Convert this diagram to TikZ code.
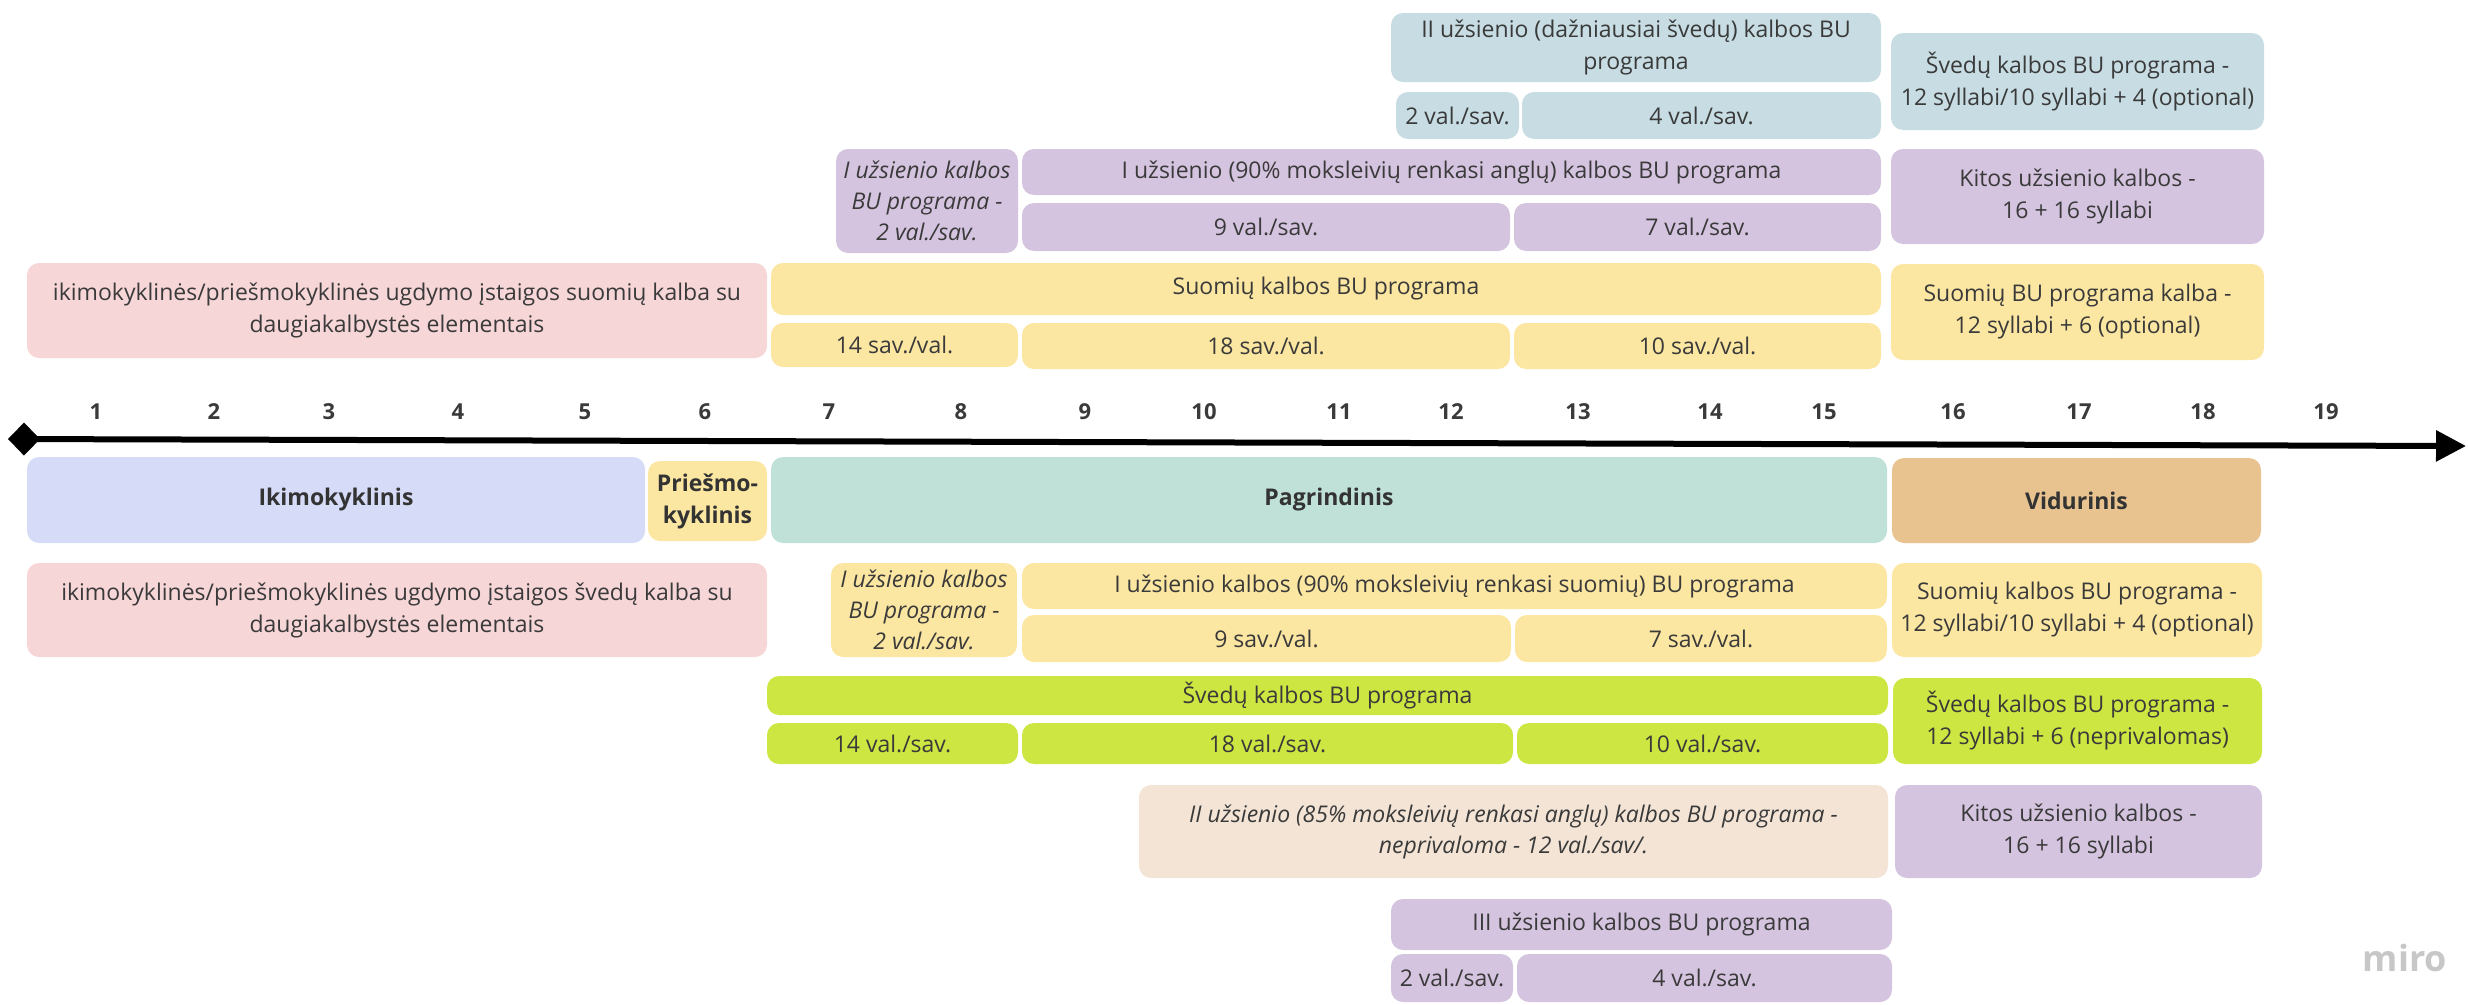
\documentclass[tikz,border=0pt]{standalone}
\usepackage{fontspec}
\setmainfont{Open Sans}
\usepackage{tikz}
\usetikzlibrary{arrows.meta}

\definecolor{txt}{HTML}{3A3A3A}
\definecolor{cGray}{HTML}{C7DCE3}
\definecolor{cPurple}{HTML}{D5C4E0}
\definecolor{cYellow}{HTML}{FBE6A2}
\definecolor{cPink}{HTML}{F7D6D8}
\definecolor{cLav}{HTML}{D6DCF8}
\definecolor{cTeal}{HTML}{C0E1D8}
\definecolor{cTan}{HTML}{E8C28F}
\definecolor{cLime}{HTML}{CDE642}
\definecolor{cBeige}{HTML}{F3E4D6}

\tikzset{
  box/.style 2 args={rounded corners=12pt, inner sep=0pt, align=center,
    minimum width=#1pt, minimum height=#2pt, text=txt,
    font=\fontsize{23}{32}\selectfont},
  ital/.style={font=\fontsize{23}{31}\selectfont\itshape},
  phase/.style={font=\fontsize{23}{32}\selectfont\bfseries, text=black!80},
  num/.style={font=\fontsize{22}{26}\selectfont\bfseries, text=txt}
}

\begin{document}
\begin{tikzpicture}[x=1pt,y=-1pt]
\useasboundingbox (0,0) rectangle (2468,1004);

% Upper rows: Finnish-language school
\node[box={490}{69}, fill=cGray] (sv2) at (1636,47.5) {II užsienio (dažniausiai švedų) kalbos BU\\programa};
\node[box={123}{47}, fill=cGray] (sv2a) at (1457.5,115.5) {2 val./sav.};
\node[box={359}{47}, fill=cGray] (sv2b) at (1701.5,115.5) {4 val./sav.};
\node[box={373}{97}, fill=cGray] (svR) at (2077.5,81.5) {Švedų kalbos BU programa -\\12 syllabi/10 syllabi + 4 (optional)};

\node[box={182}{104}, fill=cPurple, ital] (en0) at (927,201) {I užsienio kalbos\\BU programa -\\2 val./sav.};
\node[box={859}{46}, fill=cPurple] (en1) at (1451.5,172) {I užsienio (90\% moksleivių renkasi anglų) kalbos BU programa};
\node[box={488}{48}, fill=cPurple] (en1a) at (1266,227) {9 val./sav.};
\node[box={367}{48}, fill=cPurple] (en1b) at (1697.5,227) {7 val./sav.};
\node[box={373}{95}, fill=cPurple] (enR) at (2077.5,196.5) {Kitos užsienio kalbos -\\16 + 16 syllabi};

\node[box={740}{95}, fill=cPink] (fi0) at (397,310.5) {ikimokyklinės/priešmokyklinės ugdymo įstaigos suomių kalba su\\daugiakalbystės elementais};
\node[box={1110}{52}, fill=cYellow] (fi1) at (1326,289) {Suomių kalbos BU programa};
\node[box={247}{44}, fill=cYellow] (fi1a) at (894.5,345) {14 sav./val.};
\node[box={488}{46}, fill=cYellow] (fi1b) at (1266,346) {18 sav./val.};
\node[box={367}{46}, fill=cYellow] (fi1c) at (1697.5,346) {10 sav./val.};
\node[box={373}{96}, fill=cYellow] (fiR) at (2077.5,312) {Suomių BU programa kalba -\\12 syllabi + 6 (optional)};

% Age axis
\coordinate (axL) at (8,439);
\coordinate (axR) at (2466,446);
\draw[line width=6pt, {Diamond[length=32pt,width=33pt]}-{Triangle[length=30pt,width=30pt]}] (axL) -- (axR);
\foreach \n/\x in {1/96,2/214,3/329,4/458,5/585,6/705,7/829,8/961,9/1085,10/1204,
    11/1339,12/1451,13/1578,14/1710,15/1824,16/1953,17/2079,18/2203,19/2326}
  \node[num] (n\n) at (\x,412) {\n};

% School stages
\node[box={618}{86}, fill=cLav, phase] (ph1) at (336,500) {Ikimokyklinis};
\node[box={119}{80}, fill=cYellow, phase] (ph2) at (707.5,501) {Priešmo-\\kyklinis};
\node[box={1116}{86}, fill=cTeal, phase] (ph3) at (1329,500) {Pagrindinis};
\node[box={369}{85}, fill=cTan, phase] (ph4) at (2076.5,500.5) {Vidurinis};

% Lower rows: Swedish-language school
\node[box={740}{94}, fill=cPink] (sv0) at (397,610) {ikimokyklinės/priešmokyklinės ugdymo įstaigos švedų kalba su\\daugiakalbystės elementais};
\node[box={186}{94}, fill=cYellow, ital] (fiI) at (924,610) {I užsienio kalbos\\BU programa -\\2 val./sav.};
\node[box={865}{46}, fill=cYellow] (fiII) at (1454.5,586) {I užsienio kalbos (90\% moksleivių renkasi suomių) BU programa};
\node[box={489}{47}, fill=cYellow] (fiIIa) at (1266.5,638.5) {9 sav./val.};
\node[box={372}{47}, fill=cYellow] (fiIIb) at (1701,638.5) {7 sav./val.};
\node[box={370}{94}, fill=cYellow] (fiR2) at (2077,610) {Suomių kalbos BU programa -\\12 syllabi/10 syllabi + 4 (optional)};

\node[box={1121}{39}, fill=cLime] (svB) at (1327.5,695.5) {Švedų kalbos BU programa};
\node[box={251}{41}, fill=cLime] (svBa) at (892.5,743.5) {14 val./sav.};
\node[box={491}{41}, fill=cLime] (svBb) at (1267.5,743.5) {18 val./sav.};
\node[box={371}{41}, fill=cLime] (svBc) at (1702.5,743.5) {10 val./sav.};
\node[box={369}{86}, fill=cLime] (svR2) at (2077.5,721) {Švedų kalbos BU programa -\\12 syllabi + 6 (neprivalomas)};

\node[box={749}{93}, fill=cBeige, ital] (en2) at (1513.5,831.5) {II užsienio (85\% moksleivių renkasi anglų) kalbos BU programa -\\neprivaloma - 12 val./sav/.};
\node[box={367}{93}, fill=cPurple] (enR2) at (2078.5,831.5) {Kitos užsienio kalbos -\\16 + 16 syllabi};

\node[box={501}{51}, fill=cPurple] (en3) at (1641.5,924.5) {III užsienio kalbos BU programa};
\node[box={122}{48}, fill=cPurple] (en3a) at (1452,978) {2 val./sav.};
\node[box={375}{48}, fill=cPurple] (en3b) at (1704.5,978) {4 val./sav.};

\node[text=black!22, font=\fontsize{36}{40}\selectfont\bfseries] (miro) at (2405,958) {miro};
\end{tikzpicture}
\end{document}
